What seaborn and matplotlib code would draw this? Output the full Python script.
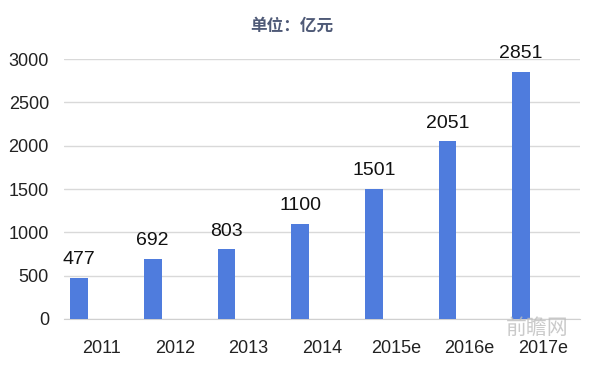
import pandas as pd
import matplotlib
matplotlib.use("Agg")
import matplotlib.pyplot as plt
import seaborn as sns

# 数据（单位：亿元）
years = ["2011", "2012", "2013", "2014", "2015e", "2016e", "2017e"]
values = [477, 692, 803, 1100, 1501, 2051, 2851]
# Excel 簇状图里第二个空系列，使柱子偏左
blank = [0, 0, 0, 0, 0, 0, 0]

bar_color = "#4F7CDD"

df = pd.DataFrame({
    "year": years * 2,
    "amount": values + blank,
    "series": ["value"] * len(years) + ["blank"] * len(years),
})

sns.set_style("white")
plt.rcParams["font.family"] = ["Liberation Sans", "Noto Sans CJK SC", "DejaVu Sans"]

fig, ax = plt.subplots(figsize=(6, 3.67), dpi=100)
fig.subplots_adjust(left=0.107, right=0.967, bottom=0.131, top=0.839)

sns.barplot(data=df, x="year", y="amount", hue="series",
            hue_order=["value", "blank"],
            palette={"value": bar_color, "blank": bar_color},
            saturation=1, dodge=True, width=1.2, gap=0.6, linewidth=0,
            legend=False, ax=ax, zorder=3)

ax.bar_label(ax.containers[0], fmt="{:.0f}", padding=7, fontsize=14, color="#111111")

ax.set_ylim(0, 3000)
ax.set_yticks(range(0, 3001, 500))
ax.set_xlim(-0.5, len(years) - 0.5)
ax.yaxis.grid(True, color="#d9d9d9", linewidth=1, zorder=0)
ax.set_axisbelow(True)
for s in ["top", "right", "left"]:
    ax.spines[s].set_visible(False)
ax.spines["bottom"].set_color("#d0d0d0")
ax.tick_params(axis="both", length=0, labelsize=13, colors="#222222")
ax.tick_params(axis="x", pad=15)
ax.tick_params(axis="y", pad=11)
ax.set_xlabel("")
ax.set_ylabel("")

fig.text(0.487, 0.93, "单位：亿元", ha="center", va="center",
         fontsize=12, fontweight="bold", color="#4F5A77",
         family=["Noto Sans CJK SC", "DejaVu Sans"])

# 水印
fig.text(0.895, 0.107, "前瞻网", ha="center", va="center", fontsize=15,
         color="#bdbdbd", alpha=0.8, family=["Noto Sans CJK SC", "DejaVu Sans"],
         zorder=0)

fig.savefig("out.png", dpi=100)
